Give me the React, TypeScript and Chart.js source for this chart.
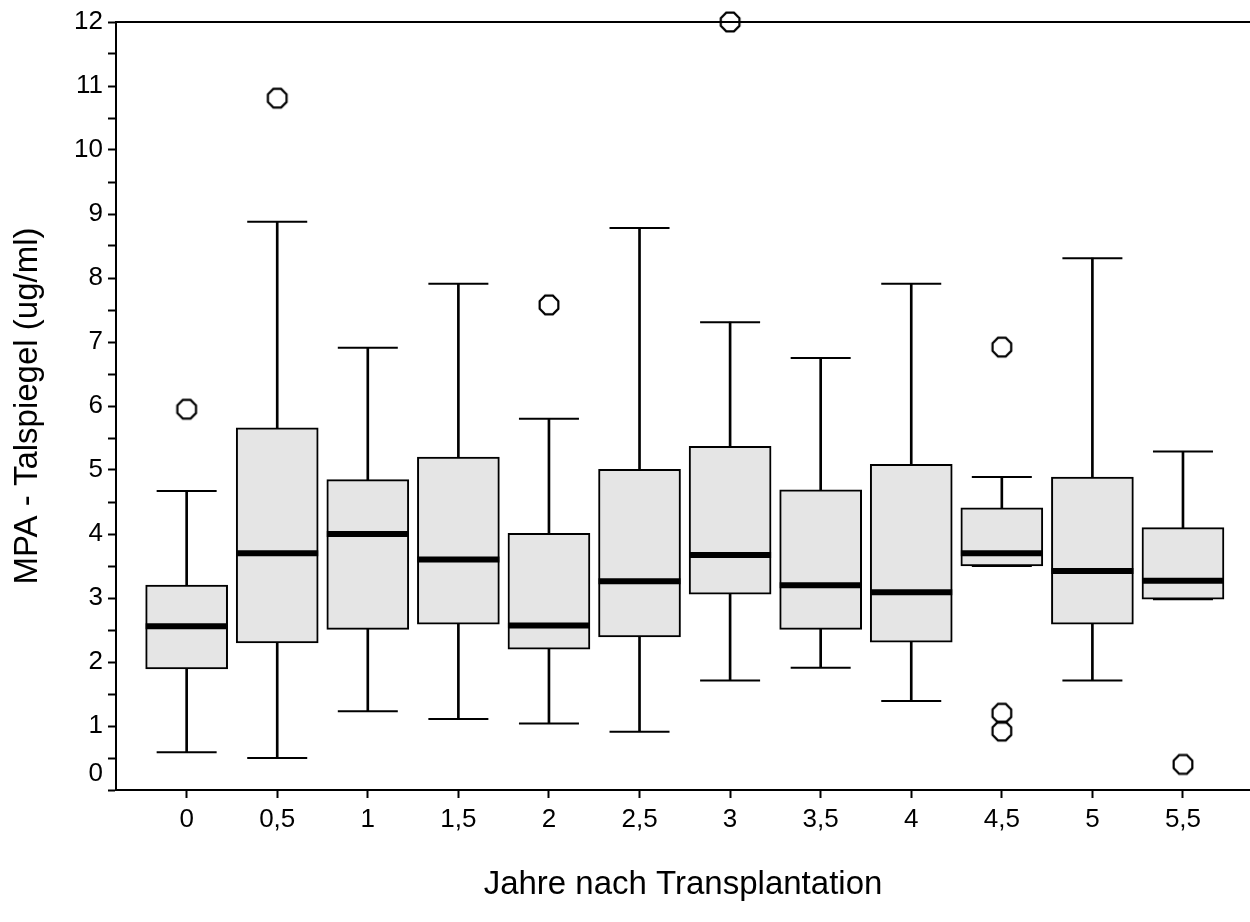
import React, { useEffect, useRef } from 'react';
import { Chart, registerables } from 'chart.js';

Chart.register(...registerables);

const categories = ['0', '0,5', '1', '1,5', '2', '2,5', '3', '3,5', '4', '4,5', '5', '5,5'];
const whiskerLow = [0.59, 0.5, 1.23, 1.11, 1.04, 0.91, 1.71, 1.91, 1.39, 3.5, 1.71, 2.98];
const q1 = [1.89, 2.3, 2.51, 2.59, 2.2, 2.39, 3.06, 2.51, 2.31, 3.5, 2.59, 2.98];
const median = [2.56, 3.7, 4.0, 3.6, 2.57, 3.26, 3.67, 3.2, 3.09, 3.7, 3.42, 3.27];
const q3 = [3.2, 5.66, 4.85, 5.2, 4.01, 5.01, 5.37, 4.69, 5.09, 4.41, 4.89, 4.1];
const whiskerHigh = [4.67, 8.88, 6.91, 7.91, 5.8, 8.78, 7.31, 6.75, 7.91, 4.89, 8.31, 5.29];
const outlierIndex = [0, 1, 4, 6, 9, 9, 9, 11];
const outlierValue = [5.95, 10.81, 7.58, 12.0, 6.92, 1.2, 0.92, 0.4];
const yTickLabels = ['0', '1', '2', '3', '4', '5', '6', '7', '8', '9', '10', '11', '12'];

const FONT = '"Liberation Sans", Arial, Helvetica, sans-serif';

function makeOctagon(): HTMLCanvasElement {
  const c = document.createElement('canvas');
  const size = 26;
  c.width = size;
  c.height = size;
  const ctx = c.getContext('2d')!;
  const r = 10.1;
  ctx.beginPath();
  for (let i = 0; i < 8; i++) {
    const a = Math.PI / 8 + (i * Math.PI) / 4;
    const px = size / 2 + r * Math.cos(a);
    const py = size / 2 + r * Math.sin(a);
    if (i === 0) ctx.moveTo(px, py);
    else ctx.lineTo(px, py);
  }
  ctx.closePath();
  ctx.lineWidth = 2.2;
  ctx.strokeStyle = '#000';
  ctx.stroke();
  return c;
}

export default function App() {
  const ref = useRef<HTMLCanvasElement | null>(null);

  useEffect(() => {
    document.body.style.margin = '0';
    const canvas = ref.current;
    if (!canvas) return;
    const octagon = makeOctagon();

    const whiskerData = categories.map((_, i) => ({ x: i, y: [whiskerLow[i], whiskerHigh[i]] }));
    const boxData = categories.map((_, i) => ({ x: i, y: [q1[i], q3[i]] }));
    const capData: { x: number; y: number }[] = [];
    categories.forEach((_, i) => {
      capData.push({ x: i, y: whiskerHigh[i] });
      capData.push({ x: i, y: whiskerLow[i] });
    });
    const medianData = categories.map((_, i) => ({ x: i, y: median[i] }));
    const outlierData = outlierIndex.map((idx, k) => ({ x: idx, y: outlierValue[k] }));

    const chart = new Chart(canvas, {
      type: 'bar',
      data: {
        datasets: [
          {
            type: 'bar',
            data: whiskerData as any,
            backgroundColor: '#000',
            borderWidth: 0,
            barThickness: 2,
            grouped: false,
            order: 5,
          } as any,
          {
            type: 'bar',
            data: boxData as any,
            backgroundColor: '#e5e5e5',
            borderColor: '#000',
            borderWidth: 2,
            borderSkipped: false,
            barThickness: 82,
            grouped: false,
            order: 4,
          } as any,
          {
            type: 'scatter',
            data: capData,
            pointStyle: 'line',
            radius: 30,
            hoverRadius: 30,
            borderColor: '#000',
            borderWidth: 2,
            showLine: false,
            order: 3,
          } as any,
          {
            type: 'scatter',
            data: medianData,
            pointStyle: 'line',
            radius: 41,
            hoverRadius: 41,
            borderColor: '#000',
            borderWidth: 6,
            showLine: false,
            order: 2,
          } as any,
          {
            type: 'scatter',
            data: outlierData,
            pointStyle: octagon,
            radius: 10,
            showLine: false,
            clip: false,
            order: 1,
          } as any,
        ],
      },
      options: {
        animation: false,
        responsive: false,
        events: [],
        layout: { autoPadding: false, padding: { top: 22, left: 0, right: 0, bottom: 0 } },
        plugins: { legend: { display: false }, tooltip: { enabled: false } },
        scales: {
          x: {
            type: 'linear',
            position: 'bottom',
            min: -0.78,
            max: 11.74,
            offset: false,
            afterBuildTicks: (scale: any) => {
              scale.ticks = categories.map((_, i) => ({ value: i }));
            },
            afterFit: (scale: any) => {
              scale.height = 132;
            },
            ticks: {
              color: '#000',
              font: { family: FONT, size: 26 },
              padding: 6,
              maxRotation: 0,
              autoSkip: false,
              callback: (v: any) => categories[Math.round(Number(v))] ?? '',
            },
            grid: {
              offset: false,
              drawOnChartArea: false,
              drawTicks: true,
              tickLength: 8,
              tickWidth: 2,
              color: '#000',
            },
            border: { display: true, color: '#000', width: 2 },
            title: {
              display: true,
              text: 'Jahre nach Transplantation',
              color: '#000',
              font: { family: FONT, size: 33 },
              padding: { top: 0, bottom: 17 },
            },
          },
          x2: {
            type: 'linear',
            position: 'top',
            min: -0.78,
            max: 11.74,
            afterFit: (scale: any) => {
              scale.height = 0;
            },
            ticks: { display: false },
            grid: { offset: false, drawOnChartArea: false, drawTicks: false },
            border: { display: true, color: '#000', width: 2 },
          },
          y: {
            type: 'linear',
            position: 'left',
            min: 0,
            max: 12,
            afterFit: (scale: any) => {
              scale.width = 116;
            },
            ticks: {
              stepSize: 0.5,
              autoSkip: false,
              color: '#000',
              padding: 5,
              font: { family: FONT, size: 26, lineHeight: 32 / 26 },
              callback: (v: any) => {
                const n = Number(v);
                if (!Number.isInteger(n)) return '';
                const label = yTickLabels[n];
                return n === 0 ? [label, ''] : label;
              },
            },
            grid: {
              drawOnChartArea: false,
              drawTicks: true,
              tickLength: 8,
              tickWidth: 2,
              color: '#000',
            },
            border: { display: true, color: '#000', width: 2 },
            title: {
              display: true,
              text: 'MPA - Talspiegel (ug/ml)',
              color: '#000',
              font: { family: FONT, size: 33 },
              padding: { top: 8, bottom: 0 },
            },
          },
        },
      } as any,
    });

    return () => {
      chart.destroy();
    };
  }, []);

  return (
    <div style={{ position: 'fixed', left: 0, top: 0, width: 1250, height: 922, background: '#fff' }}>
      <canvas ref={ref} width={1250} height={922} style={{ display: 'block', width: 1250, height: 922 }} />
    </div>
  );
}
